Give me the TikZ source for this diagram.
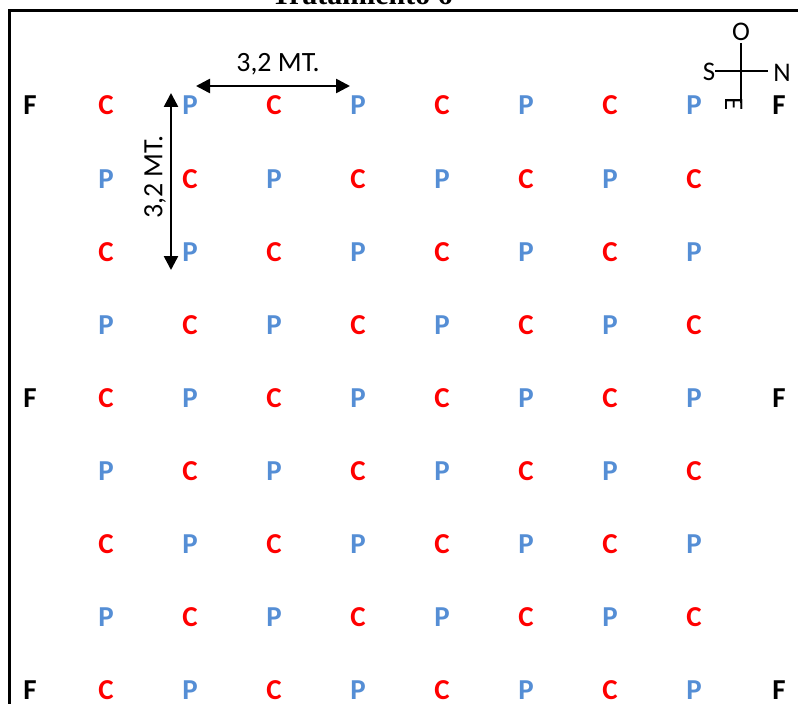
\documentclass[tikz,border=0pt]{standalone}
\usepackage{fontspec}
\setmainfont{Carlito}
\newfontfamily\titlefont{Liberation Serif}
\usetikzlibrary{arrows.meta}
\definecolor{cred}{RGB}{255,0,0}
\definecolor{pblue}{RGB}{85,142,213}
\tikzset{
  lett/.style={inner sep=0pt, font=\fontsize{29}{29}\selectfont\bfseries},
  cl/.style={lett, text=cred},
  pl/.style={lett, text=pblue},
  fl/.style={lett, text=black},
  dim/.style={line width=2.6bp, {Triangle[length=14bp,width=14bp]}-{Triangle[length=14bp,width=14bp]}},
  dimlabel/.style={inner sep=0pt, font=\fontsize{28}{28}\selectfont},
  frame/.style={line width=3bp},
  comp/.style={line width=2.3bp},
  complabel/.style={inner sep=0pt, font=\fontsize{27}{27}\selectfont}
}
\begin{document}
\begin{tikzpicture}[x=1bp,y=-1bp]
\clip (0,0) rectangle (798,704);
% title
\node[anchor=base, inner sep=0pt, font=\titlefont\fontsize{30}{30}\selectfont\bfseries] (title) at (362,5) {Tratamiento 6};
% frame
\coordinate (fa) at (9.5,704);
\coordinate (fb) at (9.5,11);
\coordinate (fc) at (798,11);
\draw[frame] (fa) -- (fb) -- (fc);
% grid
\def\ys{{105,179,252,325,398,471,544,617,690}}
\foreach \r in {0,...,8}{
  \pgfmathsetmacro{\yy}{\ys[\r]}
  \pgfmathtruncatemacro{\full}{mod(\r,4)==0 ? 1 : 0}
  \ifnum\full=1
    \node[fl] (f\r a) at (30,\yy) {F};
    \node[fl] (f\r b) at (779,\yy) {F};
    \foreach \c in {1,...,8}{
      \pgfmathsetmacro{\xx}{106+84*(\c-1)}
      \pgfmathtruncatemacro{\odd}{mod(\c,2)}
      \ifnum\odd=1 \node[cl] (n\r-\c) at (\xx,\yy) {C};
      \else \node[pl] (n\r-\c) at (\xx,\yy) {P}; \fi
    }
  \else
    \foreach \c in {1,...,8}{
      \pgfmathsetmacro{\xx}{106+84*(\c-1)}
      \pgfmathtruncatemacro{\odd}{mod(\c+\r,2)}
      \ifnum\odd=0 \node[pl] (n\r-\c) at (\xx,\yy) {P};
      \else \node[cl] (n\r-\c) at (\xx,\yy) {C}; \fi
    }
  \fi
}
% dimension arrows
\coordinate (ha) at (196,86);
\coordinate (hb) at (350,86);
\draw[dim] (ha) -- (hb);
\node[dimlabel] (hl) at (278,64) {3,2 MT.};
\coordinate (va) at (171,93);
\coordinate (vb) at (171,270);
\draw[dim] (va) -- (vb);
\node[dimlabel, rotate=90] (vl) at (155,177) {3,2 MT.};
% compass
\node[complabel] (cO) at (741,32) {O};
\node[complabel] (cS) at (709,72) {S};
\node[complabel] (cN) at (782,73) {N};
\coordinate (cv1) at (741,43);
\coordinate (cv2) at (741,103);
\coordinate (ch1) at (715,71);
\coordinate (ch2) at (768,71);
\draw[comp] (cv1) -- (cv2);
\draw[comp] (ch1) -- (ch2);
\begin{scope}
\clip (725,100) rectangle (760,115);
\node[complabel, rotate=-90, anchor=north] (cE) at (742.5,104) {E};
\end{scope}
\end{tikzpicture}
\end{document}
